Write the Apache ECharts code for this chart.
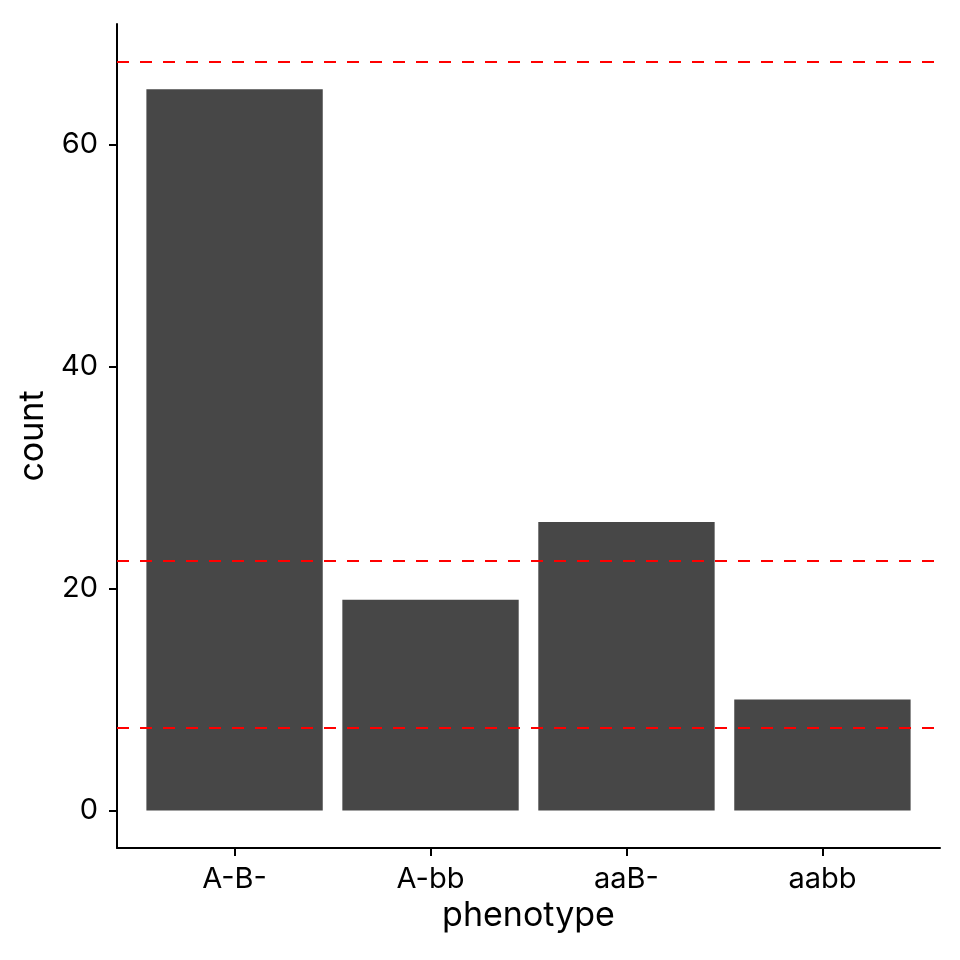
<!DOCTYPE html>
<html>
<head>
<meta charset="utf-8">
<script src="https://cdn.jsdelivr.net/npm/echarts@6/dist/echarts.min.js"></script>
<style>
  html, body { margin: 0; padding: 0; background: #fff; }
  #chart { width: 960px; height: 960px; }
</style>
</head>
<body>
<div id="chart"></div>
<script>
const phenotypes = ['A-B-', 'A-bb', 'aaB-', 'aabb'];
const counts = [65, 19, 26, 10];
const expectedLines = [67.5, 22.5, 7.5];
const yTicks = [0, 20, 40, 60];
const xPositions = [1, 2, 3, 4];

const font = 'Inter, "Noto Sans", sans-serif';
const chart = echarts.init(document.getElementById('chart'));
chart.setOption({
  animation: false,
  grid: { left: 117, right: 20, top: 24, bottom: 112 },
  xAxis: {
    type: 'value',
    min: 0.4,
    max: 4.6,
    name: 'phenotype',
    nameLocation: 'middle',
    nameGap: 44,
    nameTextStyle: { fontFamily: font, fontSize: 34, color: '#000' },
    axisLine: { show: true, onZero: false, lineStyle: { color: '#000', width: 2 } },
    axisTick: { show: true, customValues: xPositions, length: 8, lineStyle: { color: '#000', width: 2 } },
    axisLabel: {
      customValues: xPositions,
      margin: 17,
      fontFamily: font,
      fontSize: 29,
      color: '#000',
      formatter: (v) => phenotypes[Math.round(v) - 1]
    },
    splitLine: { show: false }
  },
  yAxis: {
    type: 'value',
    min: -3.375,
    max: 70.875,
    name: 'count',
    nameLocation: 'middle',
    nameGap: 66,
    nameTextStyle: { fontFamily: font, fontSize: 34, color: '#000' },
    axisLine: { show: true, onZero: false, lineStyle: { color: '#000', width: 2 } },
    axisTick: { show: true, customValues: yTicks, length: 8, lineStyle: { color: '#000', width: 2 } },
    axisLabel: {
      customValues: yTicks,
      margin: 19,
      fontFamily: font,
      fontSize: 29,
      color: '#000'
    },
    splitLine: { show: false }
  },
  series: [{
    type: 'bar',
    barWidth: '90%',
    itemStyle: { color: '#474747' },
    data: xPositions.map((x, i) => [x, counts[i]]),
    markLine: {
      silent: true,
      symbol: 'none',
      label: { show: false },
      lineStyle: { color: '#ff0000', type: [12, 11], width: 2 },
      data: expectedLines.map((v) => ({ yAxis: v }))
    }
  }]
});
</script>
</body>
</html>
